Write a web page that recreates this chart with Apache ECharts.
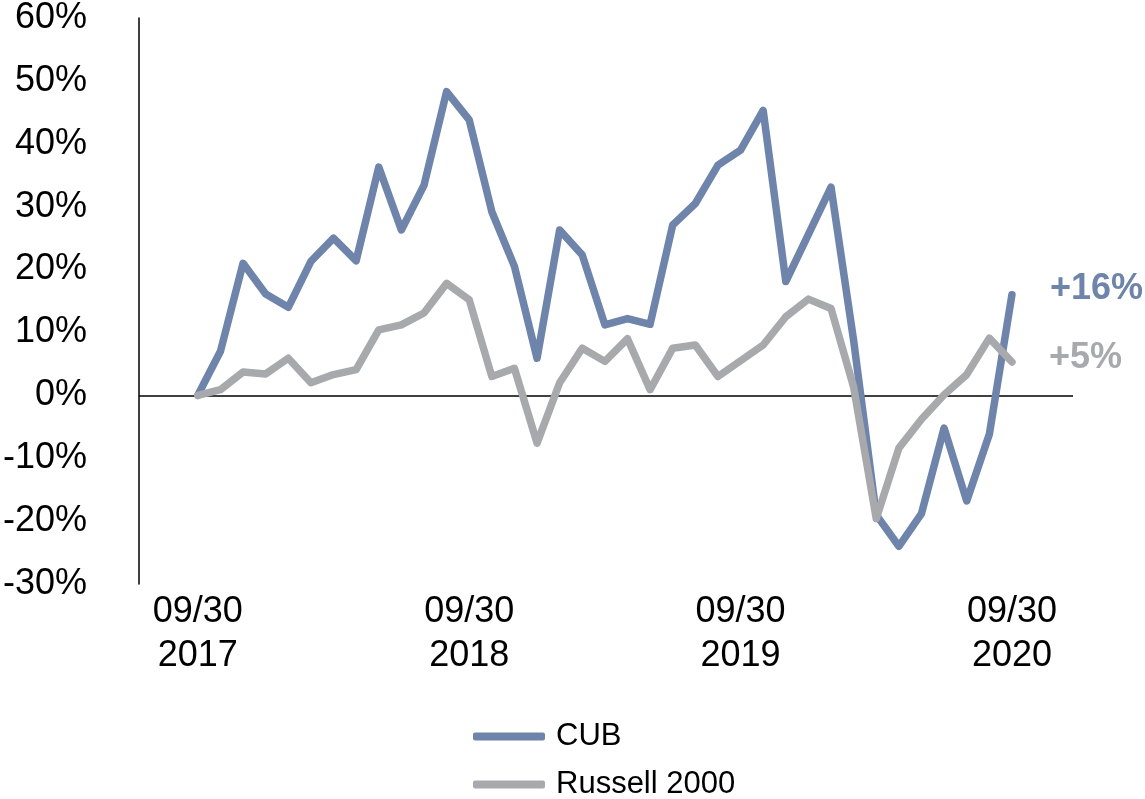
<!DOCTYPE html>
<html>
<head>
<meta charset="utf-8">
<script src="https://cdn.jsdelivr.net/npm/echarts@6/dist/echarts.min.js"></script>
<style>
html,body{margin:0;padding:0;background:#fff;}
#chart{width:1145px;height:799px;}
</style>
</head>
<body>
<div id="chart"></div>
<script>
// Month index 0 = 09/30/2017 ... 36 = 09/30/2020
const cub = [0, 7.0, 21.0, 16.1, 14.0, 21.3, 25.0, 21.4, 36.3, 26.3, 33.4, 48.3, 43.8, 29.2, 20.5, 5.9, 26.3, 22.3, 11.2, 12.2, 11.3, 27.1, 30.5, 36.6, 39.0, 45.3, 18.1, 25.6, 33.1, 8.7, -19.0, -24.0, -18.8, -5.2, -16.8, -6.2, 16.0];
const russell = [0, 0.9, 3.7, 3.4, 5.9, 2.0, 3.3, 4.1, 10.4, 11.2, 13.1, 17.8, 15.2, 3.0, 4.3, -7.6, 2.0, 7.5, 5.4, 9.0, 0.9, 7.5, 8.0, 3.0, 5.5, 8.0, 12.5, 15.3, 13.8, 1.3, -19.6, -8.4, -3.8, 0.1, 3.3, 9.1, 5.3];
const xTickPositions = [0, 12, 24, 36];
const xTickLabels = ['09/30\n2017', '09/30\n2018', '09/30\n2019', '09/30\n2020'];
const seriesNames = ['CUB', 'Russell 2000'];

const FONT = '"Liberation Sans", Arial, sans-serif';
const BLUE = '#6E84AB';
const GRAY = '#A8A9AC';

const toPairs = arr => arr.map((v, i) => [i, v]);

const legendBase = {
  left: 468,
  itemWidth: 72,
  itemHeight: 8,
  icon: 'roundRect',
  textStyle: {fontSize: 31, color: '#000', fontFamily: FONT, padding: [0, 0, 0, 6]}
};

const chart = echarts.init(document.getElementById('chart'), null, {renderer: 'canvas'});
chart.setOption({
  animation: false,
  backgroundColor: '#fff',
  textStyle: {fontFamily: FONT},
  grid: {left: 137, right: 72, top: 15, bottom: 215, containLabel: false},
  legend: [
    Object.assign({}, legendBase, {top: 716, data: [seriesNames[0]]}),
    Object.assign({}, legendBase, {top: 764, data: [seriesNames[1]]})
  ],
  xAxis: {
    type: 'value',
    min: -2.6,
    max: 38.7,
    axisLine: {show: false},
    axisTick: {show: false},
    splitLine: {show: false},
    axisLabel: {
      customValues: xTickPositions,
      formatter: v => xTickLabels[xTickPositions.indexOf(Math.round(v))] || '',
      fontSize: 36,
      lineHeight: 44,
      color: '#000',
      margin: 6,
      fontFamily: FONT
    }
  },
  yAxis: {
    type: 'value',
    min: -30,
    max: 60,
    interval: 10,
    axisLine: {show: true, onZero: false, lineStyle: {color: '#000', width: 1.5}},
    axisTick: {show: false},
    splitLine: {show: false},
    axisLabel: {
      formatter: '{value}%',
      fontSize: 36,
      color: '#000',
      margin: 52,
      padding: [8, 0, 0, 0],
      fontFamily: FONT
    }
  },
  series: [
    {
      name: seriesNames[0],
      type: 'line',
      data: toPairs(cub),
      showSymbol: false,
      symbol: 'none',
      color: BLUE,
      lineStyle: {width: 7.5, color: BLUE, cap: 'round', join: 'round'},
      endLabel: {
        show: true,
        formatter: p => '+' + Math.round(p.value[1]) + '%',
        color: BLUE,
        fontSize: 36,
        fontWeight: 'bold',
        fontFamily: FONT,
        distance: 38,
        offset: [0, -6]
      },
      markLine: {
        silent: true,
        symbol: 'none',
        label: {show: false},
        lineStyle: {color: '#000', width: 1.5, type: 'solid'},
        data: [{yAxis: 0}],
        z: 1
      },
      z: 3
    },
    {
      name: seriesNames[1],
      type: 'line',
      data: toPairs(russell),
      showSymbol: false,
      symbol: 'none',
      color: GRAY,
      lineStyle: {width: 7.5, color: GRAY, cap: 'round', join: 'round'},
      endLabel: {
        show: true,
        formatter: p => '+' + Math.round(p.value[1]) + '%',
        color: GRAY,
        fontSize: 36,
        fontWeight: 'bold',
        fontFamily: FONT,
        distance: 37,
        offset: [0, -4]
      },
      z: 4
    }
  ]
});
</script>
</body>
</html>
